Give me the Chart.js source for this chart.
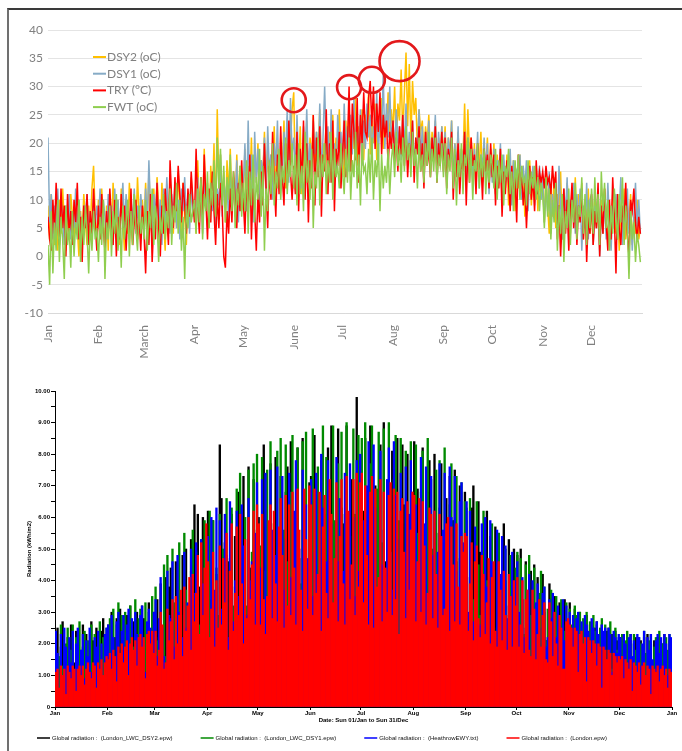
<!DOCTYPE html>
<html>
<head>
<meta charset="utf-8">
<script src="https://cdn.jsdelivr.net/npm/chart.js@4.4.1/dist/chart.umd.min.js"></script>
<style>
  html, body { margin: 0; padding: 0; background: #fff; }
  body { width: 682px; height: 751px; position: relative; overflow: hidden; }
  #frame { position: absolute; left: 7px; top: 8px; width: 675px; height: 743px;
           border-top: 2px solid #3a3a3a; border-left: 2px solid #707070; }
  .box { position: absolute; left: 10px; width: 672px; }
  #tempBox { top: 11px; height: 359px; }
  #radBox { top: 380px; height: 371px; }
</style>
</head>
<body>
<div id="frame"></div>
<div class="box" id="tempBox"><canvas id="tempChart"></canvas></div>
<div class="box" id="radBox"><canvas id="radChart"></canvas></div>
<script>
// ---- shared calendar ----
const monthStarts = [0, 31, 59, 90, 120, 151, 181, 212, 243, 273, 304, 334];
const tempMonthLabels = ['Jan', 'Feb', 'March', 'Apr', 'May', 'June', 'Jul', 'Aug', 'Sep', 'Oct', 'Nov', 'Dec'];
const radTickDays = [0, 31, 59, 90, 120, 151, 181, 212, 243, 273, 304, 334, 365];
const radMonthLabels = ['Jan', 'Feb', 'Mar', 'Apr', 'May', 'Jun', 'Jul', 'Aug', 'Sep', 'Oct', 'Nov', 'Dec', 'Jan'];
const radTickLabels = ['0', '1.00', '2.00', '3.00', '4.00', '5.00', '6.00', '7.00', '8.00', '9.00', '10.00'];

// ---- daily temperatures (oC) ----
const dsy2Temp = [
  9,3,11,5,2,8,1,10,4,12,6,1,9,3,11,7,2,10,5,0,8,4,11,6,2,9,5,12,16,7,3,
  10,4,12,6,2,9,1,11,5,13,7,3,10,2,12,6,1,9,4,13,8,2,11,5,14,7,3,10,
  6,13,4,15,8,2,12,5,14,9,3,13,7,1,11,6,14,8,4,12,5,15,9,3,13,7,2,11,6,14,8,
  10,4,17,8,14,6,19,9,13,5,16,10,20,7,26,12,18,8,15,6,17,11,19,9,14,7,18,10,16,8,
  10,19,8,16,12,21,9,18,13,20,10,17,14,22,11,19,12,18,15,23,10,20,13,19,16,24,12,21,14,20,26,
  29,12,20,15,23,11,19,16,24,13,21,17,25,14,22,18,26,15,20,17,24,13,22,18,25,16,21,19,26,17,
  20,14,24,18,27,15,22,19,28,16,23,20,26,17,25,21,29,18,24,20,27,17,23,21,28,19,25,22,29,20,26,
  22,30,19,27,24,33,21,29,36,23,34,20,31,25,28,19,26,22,24,18,23,20,25,17,22,19,24,16,21,18,23,
  17,23,15,21,18,24,14,20,16,22,13,19,17,27,15,26,18,21,14,20,12,19,16,22,13,18,15,21,12,19,
  14,20,11,18,13,19,10,17,12,18,9,16,11,17,8,15,12,18,10,16,7,14,11,17,9,15,12,16,8,14,10,
  13,6,15,9,4,12,7,14,5,11,8,15,3,10,6,13,9,4,12,7,14,5,11,8,13,3,10,6,12,4,
  9,2,11,5,8,1,10,4,12,6,3,9,2,11,7,4,10,1,8,5,12,3,9,6,11,2,7,4,10,3,5
];
const dsy1Temp = [
  21,6,11,3,9,5,12,4,10,7,2,9,6,11,3,8,5,12,4,10,6,2,9,7,11,4,8,3,10,5,9,
  6,12,4,10,7,3,11,5,9,2,12,6,10,4,8,13,5,11,7,3,10,6,12,4,9,5,11,7,
  4,12,6,17,8,3,11,7,13,5,10,2,12,6,14,8,4,11,7,13,5,10,3,12,8,14,6,11,4,13,7,
  10,5,14,7,12,4,15,9,11,6,13,8,16,5,12,9,18,7,14,10,13,6,15,8,12,9,17,6,14,10,
  12,20,8,24,10,18,6,22,13,19,9,17,14,21,11,23,15,18,10,20,16,24,12,19,14,22,17,26,13,28,18,
  21,14,25,16,19,12,23,17,26,15,20,13,24,18,22,16,27,14,21,30,18,23,15,26,17,20,14,25,19,22,
  16,27,19,23,15,25,18,28,17,22,20,26,16,24,19,27,21,25,18,23,20,29,17,26,22,32,19,27,21,30,20,
  24,18,26,20,23,17,25,19,27,16,22,18,24,15,21,19,26,17,23,14,22,18,24,16,21,19,25,15,22,17,23,
  16,22,14,21,17,24,13,20,15,23,12,19,16,22,14,21,17,20,13,19,15,22,12,18,16,21,14,20,11,18,
  13,19,11,17,14,20,10,18,12,16,13,19,9,17,11,15,14,18,10,16,12,17,8,15,13,16,9,14,11,16,10,
  14,6,12,8,15,4,11,7,13,5,16,9,3,12,7,14,2,10,8,13,4,11,6,12,1,9,5,13,3,10,
  11,2,9,5,12,0,8,4,10,3,13,6,1,9,5,11,3,8,14,2,10,6,12,4,9,1,7,13,5,10,4
];
const tryTemp = [
  7,3,1,10,4,13,6,2,12,5,9,0,11,4,8,2,10,6,13,3,7,-1,9,5,11,2,8,4,12,6,1,
  9,3,11,5,1,8,4,12,6,2,10,0,7,3,11,5,9,1,8,4,12,2,6,10,3,7,1,9,
  4,-3,8,2,11,-1,6,3,13,5,0,9,4,12,7,2,17,10,5,14,8,16,11,6,13,9,4,12,7,15,10,
  6,19,9,4,14,7,18,10,3,12,6,15,8,2,11,5,13,9,0,-2,8,4,12,6,15,10,5,13,8,17,
  10,4,14,7,18,3,12,8,1,11,6,15,9,20,12,5,16,10,22,13,7,18,11,23,14,9,20,12,24,15,10,
  16,11,22,8,19,13,24,10,20,6,17,12,25,9,21,14,23,7,18,15,26,11,20,13,24,8,19,16,22,12,
  18,24,14,19,30,15,27,22,17,28,13,25,20,29,22,21,28,31,23,30,19,27,22,29,18,25,21,24,16,22,19,
  24,17,21,15,23,18,25,16,22,14,20,17,24,13,21,18,23,15,20,12,22,16,19,14,21,17,23,13,20,16,22,
  15,21,12,19,16,22,10,18,14,20,11,17,15,22,9,19,13,21,16,18,11,20,14,17,10,19,15,18,12,20,
  14,18,9,16,12,19,7,15,11,17,13,8,16,10,14,6,18,11,15,9,13,5,12,16,10,14,8,17,11,15,13,
  15,12,16,13,14,11,16,12,15,3,9,0,7,12,4,10,1,8,13,5,11,2,9,6,12,3,10,-1,7,4,
  11,2,8,5,13,0,9,4,12,6,1,10,3,14,7,-3,11,5,2,9,6,13,4,0,10,8,12,6,3,7,4
];
const fwtTemp = [
  2,-5,8,-3,6,1,10,-1,7,3,-4,9,2,5,-2,8,0,6,3,10,-1,7,2,9,4,-3,6,1,8,3,5,
  -1,7,2,10,-4,6,3,9,0,8,4,11,1,7,-2,9,3,6,10,0,8,2,11,5,1,9,4,7,
  3,10,1,8,5,12,2,9,6,-1,7,4,11,3,8,5,12,2,9,6,13,4,10,1,7,-4,9,5,11,6,8,
  10,4,12,6,14,3,11,8,15,5,13,9,17,7,21,12,19,9,16,6,14,10,18,8,15,5,12,9,16,7,
  13,8,17,4,15,9,18,6,14,10,19,7,16,1,12,8,17,11,20,9,15,12,19,10,16,13,21,11,17,14,20,
  12,18,9,20,11,16,8,22,13,17,10,19,5,15,12,21,9,18,14,20,11,17,13,22,10,19,14,16,12,20,
  15,11,19,13,21,10,17,14,22,12,18,9,20,15,16,11,19,13,21,10,17,14,20,8,18,12,16,13,19,11,17,
  20,14,22,16,19,13,21,15,23,17,20,14,22,16,19,12,21,15,18,13,20,16,22,14,19,15,21,13,18,16,20,
  14,20,11,18,15,21,12,19,9,17,14,20,11,18,16,21,13,19,10,17,15,20,12,18,14,19,11,17,13,18,
  16,12,19,10,17,13,18,9,16,14,19,11,15,8,17,12,18,10,16,13,14,9,17,11,15,12,16,10,14,8,13,
  11,5,14,7,12,3,10,6,13,1,9,4,11,-1,8,5,12,2,10,6,13,3,9,7,14,4,11,2,10,5,
  12,4,14,6,11,2,15,8,13,5,10,1,9,4,12,7,3,11,6,14,2,9,5,-4,8,3,6,-1,4,2,-1
];

// highlighted peaks (day of year, oC)
const circleDays = [151, 185, 199, 216];
const circleTemps = [27.6, 29.9, 31.2, 34.5];

// ---- daily global radiation ----
const radDsy2 = [
  1.2,2.5,0.8,1.9,2.7,1.1,0.6,2.2,1.7,2.6,0.9,1.4,2.4,2.0,0.7,1.8,2.6,1.3,2.3,0.5,1.6,2.7,2.1,1.0,2.5,1.5,0.8,2.4,2.8,1.9,1.2,
  2.6,1.4,3.0,0.9,2.2,2.8,1.7,3.1,1.2,2.5,0.8,2.9,2.0,3.2,1.5,2.7,1.0,3.0,2.3,1.6,3.2,2.8,1.1,2.6,3.3,1.9,2.4,3.0,
  1.8,3.4,2.2,3.9,1.4,2.6,4.1,1.2,3.8,4.4,1.9,2.5,4.6,2.8,1.3,3.6,4.8,2.1,5.0,2.5,1.5,5.3,3.2,6.4,2.0,6.1,3.8,2.9,6.0,1.7,4.4,
  6.2,2.1,3.4,5.9,1.8,4.2,2.8,8.3,6.6,2.3,5.2,3.0,4.6,2.4,6.1,1.9,5.4,3.6,6.8,2.6,4.8,7.3,2.2,3.1,7.6,4.4,1.6,7.2,3.5,5.6,
  6.0,2.4,3.8,8.3,5.7,2.1,4.5,7.7,3.3,3.2,7.9,2.6,5.2,7.3,4.1,1.8,6.8,7.6,3.5,8.4,2.7,5.5,4.2,8.2,4.7,2.3,8.5,5.9,3.0,3.9,7.1,
  7.3,3.0,8.6,4.4,2.5,4.2,7.8,3.1,6.1,3.6,8.2,2.2,8.9,5.4,3.3,4.8,8.8,2.9,6.3,5.8,2.4,8.9,4.5,3.6,7.2,5.3,2.7,9.8,4.9,7.7,
  3.6,6.2,8.5,2.8,5.1,8.9,4.3,2.6,7.0,3.4,5.7,8.3,2.9,9.0,4.6,4.9,2.7,6.0,8.1,3.5,5.4,8.5,3.8,2.4,8.3,6.4,3.1,8.0,5.6,2.6,6.8,
  8.4,3.1,6.9,5.0,2.6,8.2,4.4,3.3,6.8,7.8,3.9,2.5,8.0,5.5,3.4,6.3,7.7,2.8,4.1,6.6,3.5,7.3,2.3,5.9,7.5,4.6,3.0,7.0,5.2,2.7,6.8,
  5.9,2.6,4.1,6.3,7.0,3.6,2.1,6.5,4.9,3.0,2.9,5.6,6.2,2.4,5.4,3.8,3.3,5.7,1.9,5.5,2.6,4.1,5.8,4.0,2.2,5.3,3.1,1.8,5.0,4.2,
  4.8,2.5,5.0,3.4,1.7,4.6,2.9,3.2,4.3,1.9,4.5,2.3,4.1,2.4,1.5,4.2,3.0,2.1,1.7,3.9,2.4,2.2,3.5,1.6,2.8,3.3,1.5,2.1,3.4,2.5,1.3,
  3.3,2.1,2.9,3.1,1.6,2.8,3.0,2.4,1.2,2.7,2.9,1.8,2.6,2.3,1.0,2.5,2.7,2.0,1.4,2.6,2.2,0.9,2.4,2.5,1.7,2.3,1.3,2.4,2.1,1.6,
  2.2,1.1,2.3,1.8,0.8,2.1,2.3,1.4,2.0,2.2,0.7,1.9,2.1,1.5,2.2,1.0,2.3,1.7,2.0,0.6,2.1,1.3,2.2,1.9,0.9,2.0,2.3,1.6,1.2,2.1,1.8
];
const radDsy1 = [
  2.3,0.9,1.6,2.6,1.3,0.6,2.0,2.5,1.1,1.8,2.6,0.8,2.2,1.5,2.7,1.0,1.9,2.4,0.7,2.1,1.4,2.6,1.2,2.3,0.9,2.0,2.7,1.5,2.2,1.7,2.5,
  1.3,2.8,2.0,3.1,1.1,2.6,3.3,1.7,2.9,0.9,3.0,2.4,1.5,3.2,2.7,1.9,3.4,1.2,2.8,3.1,2.2,1.6,3.3,2.5,3.0,1.4,3.5,2.6,
  3.8,2.1,2.2,3.0,1.5,4.5,1.6,4.8,2.3,2.1,5.0,3.3,1.8,2.7,5.2,2.9,1.4,5.5,3.7,2.0,2.1,4.3,5.6,1.5,4.9,3.8,2.6,5.3,1.6,5.9,3.9,
  3.5,6.2,2.6,5.9,3.5,4.4,2.9,6.1,2.8,5.0,3.4,6.6,2.0,4.7,6.3,3.2,3.8,6.9,2.6,7.4,4.2,2.1,6.0,3.2,7.5,2.7,4.9,7.7,2.8,8.0,
  3.2,5.1,7.9,2.2,4.3,7.5,3.6,8.4,2.4,5.8,3.7,8.1,3.0,8.5,2.9,5.6,8.3,4.6,2.0,6.8,8.6,3.2,4.4,8.2,2.3,3.9,8.4,4.3,8.7,2.7,6.1,
  2.9,8.8,5.5,3.2,7.6,4.7,2.5,8.9,3.4,7.9,3.8,5.6,2.1,8.9,5.9,3.3,7.7,4.5,8.7,2.6,6.1,9.0,3.3,5.4,2.4,8.8,6.1,3.0,8.6,5.0,
  8.5,3.3,9.0,5.8,2.2,7.7,8.9,4.6,3.4,6.9,8.7,2.5,5.2,8.8,3.3,4.0,9.0,4.9,2.3,7.2,8.6,3.7,5.9,8.5,2.5,3.6,8.1,4.6,2.4,8.4,5.8,
  2.4,8.3,5.5,3.9,6.8,8.1,2.4,4.6,8.5,3.2,7.2,5.0,3.9,7.5,2.6,7.8,5.1,3.2,8.2,4.7,2.4,6.4,7.7,3.8,5.9,7.3,2.2,4.7,7.1,3.4,6.5,
  6.3,2.8,6.6,3.7,3.4,2.1,6.5,4.5,2.9,2.8,6.2,3.3,4.0,3.9,2.6,5.8,4.3,2.4,2.5,5.5,3.9,2.2,3.6,5.0,2.6,2.9,4.8,2.1,3.8,4.4,
  4.9,2.4,4.7,2.2,2.3,4.5,1.9,4.8,2.9,2.1,4.4,1.8,2.0,3.6,4.3,1.6,3.8,2.1,3.1,1.6,3.7,1.9,2.7,3.5,1.2,1.9,3.4,2.6,2.4,3.3,1.8,
  3.1,2.6,1.4,3.2,2.9,2.2,3.0,1.1,2.8,2.5,3.0,1.9,2.7,1.3,2.9,2.4,2.6,0.9,2.5,2.8,2.0,2.6,1.5,2.4,2.7,1.2,2.3,2.5,1.8,2.2,
  1.9,2.3,0.9,2.1,2.4,1.5,2.0,1.2,2.3,1.8,0.7,2.2,2.0,1.4,2.4,1.7,0.8,2.1,2.3,1.3,1.9,2.2,1.0,2.4,1.6,2.0,0.6,2.2,1.8,2.3,1.4
];
const radEwy = [
  2.4,1.7,0.5,2.3,1.0,2.5,1.9,0.8,2.2,1.4,2.4,0.6,2.0,2.5,1.2,1.8,2.3,0.9,2.1,1.6,2.5,1.1,0.7,2.2,1.9,2.4,1.3,2.0,0.8,2.3,2.5,
  2.6,1.2,2.9,2.2,0.8,2.7,3.0,1.6,2.4,2.9,1.0,2.6,3.1,1.9,2.8,0.7,3.0,2.3,1.4,2.9,3.2,2.0,1.1,2.7,3.1,2.5,1.7,3.0,
  3.4,1.6,2.8,4.1,2.5,1.6,1.2,4.3,2.9,2.8,4.6,1.9,2.4,4.8,3.0,2.2,2.2,4.9,2.5,3.3,1.7,5.0,2.7,3.6,5.2,2.4,1.9,5.3,3.9,2.1,2.8,
  5.4,2.1,6.0,2.7,3.7,6.3,2.5,5.9,3.1,2.4,6.1,4.8,2.2,6.5,3.8,2.7,4.0,6.2,3.5,2.8,6.4,5.1,2.9,2.9,6.6,4.0,4.6,2.3,5.5,7.1,
  2.8,4.4,7.2,3.1,7.4,3.3,2.9,7.5,5.6,3.1,4.8,7.6,2.5,2.9,7.3,3.7,5.3,2.8,7.4,4.1,2.6,6.2,7.8,3.0,5.0,3.6,7.5,2.7,6.4,4.7,3.8,
  7.2,3.5,4.9,7.4,3.9,2.7,8.0,6.3,3.5,4.6,7.8,2.9,5.8,3.1,2.8,7.9,4.6,6.6,3.0,4.3,7.4,2.9,5.1,7.7,3.1,6.0,3.5,7.8,4.3,8.0,
  4.6,5.9,3.2,7.0,8.4,4.4,2.8,8.3,6.3,3.5,3.2,8.1,4.5,5.6,2.9,7.2,8.2,4.9,3.7,8.4,6.7,5.3,2.0,7.4,4.3,3.9,7.6,3.1,6.1,7.8,3.3,
  5.0,6.4,2.7,4.5,7.9,3.2,5.8,7.6,3.0,3.7,7.3,4.8,6.2,2.5,4.9,7.7,3.0,5.6,7.4,2.9,3.2,7.6,6.0,2.8,7.3,4.3,3.0,6.5,7.1,5.2,2.7,
  6.5,3.0,6.2,3.3,2.7,5.7,4.4,2.1,2.6,5.8,3.4,6.0,3.8,2.5,5.9,4.6,2.3,2.2,5.6,3.0,4.2,5.4,2.4,5.1,2.8,3.2,2.8,4.9,2.5,4.0,
  4.6,3.0,2.4,4.1,2.2,2.5,3.7,4.2,1.5,4.0,2.3,3.3,3.9,2.5,1.8,3.6,3.8,1.9,2.2,3.4,2.8,3.6,1.3,2.2,3.2,2.6,1.7,3.4,2.1,3.2,2.0,
  3.0,2.5,2.9,1.6,2.8,3.0,2.2,2.7,0.9,2.9,2.6,2.4,1.4,2.8,2.5,1.9,2.7,2.3,0.8,2.6,2.4,2.5,1.5,2.5,2.3,1.1,2.4,2.2,1.7,2.3,
  2.2,1.4,2.3,2.0,0.7,2.2,2.3,1.6,2.1,1.0,2.3,2.2,1.3,2.0,2.4,0.9,2.2,1.8,2.3,1.5,0.8,2.1,2.3,1.7,2.2,1.2,2.3,2.0,1.0,2.3,2.2
];
const radLondon = [
  1.1,1.2,0.6,1.3,1.0,1.2,0.4,1.3,1.1,0.9,1.3,1.2,0.5,1.2,1.3,1.0,1.3,0.7,1.2,1.4,1.1,0.9,1.4,1.3,0.6,1.4,1.2,1.5,1.0,1.4,1.6,
  1.5,1.7,1.2,1.8,1.6,0.8,1.9,1.7,2.0,1.4,1.9,2.1,1.0,2.0,2.2,1.8,2.1,1.3,2.2,2.3,1.9,2.2,0.9,2.3,2.4,2.0,2.4,1.7,
  2.4,1.3,1.8,3.0,2.6,1.2,1.4,3.1,2.1,2.7,3.4,1.5,3.5,2.0,2.9,3.7,1.6,3.8,2.4,3.2,4.1,1.8,4.2,2.7,3.6,4.8,2.3,5.2,2.9,4.4,5.8,
  4.6,2.2,3.1,4.9,1.9,4.0,2.5,5.1,2.6,4.7,3.3,5.5,1.8,4.3,5.8,2.4,3.6,5.7,2.9,6.1,3.9,2.0,5.3,2.8,6.0,3.4,4.5,6.2,2.6,6.4,
  5.8,2.6,6.1,3.4,2.3,3.5,5.9,6.4,2.8,6.2,3.9,2.7,5.7,6.6,4.8,2.5,6.7,3.2,6.4,2.9,6.8,4.4,2.6,6.9,5.6,3.7,2.4,6.9,5.3,3.1,7.0,
  6.4,2.9,6.9,3.6,4.2,6.8,2.4,5.7,6.7,3.6,2.8,7.2,6.1,3.3,4.7,7.1,2.7,5.4,7.2,3.9,2.6,7.3,6.2,3.4,4.5,7.2,2.9,7.4,3.8,7.1,
  7.4,3.3,7.0,4.8,2.6,6.8,7.3,2.5,6.9,3.8,4.1,7.2,2.7,6.8,4.4,3.0,6.7,7.1,2.9,6.9,3.4,6.8,2.3,6.2,6.6,4.9,2.8,6.5,3.7,5.6,6.8,
  6.7,2.7,4.6,6.6,3.0,6.5,5.1,2.6,3.6,6.3,6.1,2.8,6.2,4.2,2.5,6.1,5.4,2.9,3.1,5.8,6.0,2.4,5.7,4.5,2.7,5.8,3.8,2.6,5.4,4.9,5.5,
  5.4,2.4,3.9,5.2,2.1,4.6,5.1,2.8,2.2,4.8,4.2,2.3,3.3,4.7,2.0,4.1,4.6,2.4,1.9,4.6,3.7,2.1,4.3,2.9,1.8,4.2,3.5,1.9,4.0,3.2,
  4.1,1.9,2.6,4.0,1.7,3.4,3.7,1.8,1.6,3.7,3.1,1.5,2.3,3.4,1.9,2.9,3.3,1.5,1.4,3.3,2.7,1.6,3.0,2.0,1.3,2.9,2.5,1.2,1.2,2.7,2.8,
  2.6,2.5,1.9,2.5,2.4,1.1,2.3,2.4,2.0,2.2,0.8,2.2,2.1,1.7,2.1,2.0,1.3,2.0,1.9,0.6,1.9,1.8,1.5,1.8,1.7,1.0,1.7,1.6,1.4,1.6,
  1.5,1.6,0.9,1.5,1.4,1.2,1.5,0.5,1.4,1.3,1.1,1.4,0.7,1.3,1.4,1.0,1.3,1.2,0.4,1.3,1.2,1.1,1.3,0.8,1.2,1.3,1.0,1.2,0.6,1.2,1.1
];

const byDay = (arr, shift) => arr.map((v, i) => ({ x: i + shift, y: v }));

// legend drawn inside the plot, top left
const tempLegend = {
  id: 'tempLegend',
  afterDraw(chart) {
    const { ctx, chartArea } = chart;
    ctx.save();
    ctx.font = '12px Lato';
    ctx.textBaseline = 'middle';
    chart.data.datasets.forEach((ds, k) => {
      const x = chartArea.left + 45;
      const y = chartArea.top + 27 + k * 16.7;
      ctx.strokeStyle = ds.borderColor;
      ctx.lineWidth = 2;
      ctx.beginPath();
      ctx.moveTo(x, y);
      ctx.lineTo(x + 13, y);
      ctx.stroke();
      ctx.fillStyle = '#7f7f7f';
      ctx.fillText(ds.label, x + 14, y);
    });
    ctx.restore();
  }
};

// red rings round the hottest spells
const peakRings = {
  id: 'peakRings',
  afterDatasetsDraw(chart) {
    const { ctx, scales } = chart;
    const radii = [12, 12, 13, 20];
    ctx.save();
    ctx.strokeStyle = '#e3181b';
    ctx.lineWidth = 2.6;
    circleDays.forEach((d, i) => {
      ctx.beginPath();
      ctx.arc(scales.x.getPixelForValue(d), scales.y.getPixelForValue(circleTemps[i]), radii[i], 0, Math.PI * 2);
      ctx.stroke();
    });
    ctx.restore();
  }
};

const grey = '#808080';

new Chart(document.getElementById('tempChart'), {
  type: 'line',
  data: {
    datasets: [
      { label: 'DSY2 (oC)', data: byDay(dsy2Temp, 0), borderColor: '#ffc000', order: 3 },
      { label: 'DSY1 (oC)', data: byDay(dsy1Temp, 0), borderColor: '#86abc6', order: 2 },
      { label: 'TRY (°C)', data: byDay(tryTemp, 0), borderColor: '#ff0000', order: 1 },
      { label: 'FWT (oC)', data: byDay(fwtTemp, 0), borderColor: '#8fce4f', order: 0 }
    ]
  },
  options: {
    responsive: true,
    maintainAspectRatio: false,
    animation: false,
    events: [],
    elements: {
      point: { radius: 0 },
      line: { borderWidth: 1.5, tension: 0 }
    },
    layout: { padding: { top: 19, right: 40, left: 0, bottom: 0 } },
    scales: {
      x: {
        type: 'linear',
        min: 0,
        max: 365,
        afterBuildTicks: s => { s.ticks = monthStarts.map(v => ({ value: v })); },
        afterFit: s => { s.height = 57; },
        ticks: {
          callback: (v, i) => tempMonthLabels[i],
          minRotation: 90,
          maxRotation: 90,
          autoSkip: false,
          padding: 4,
          color: grey,
          font: { family: 'Lato', size: 12 }
        },
        grid: { display: false },
        border: { color: '#d9d9d9' }
      },
      y: {
        min: -10,
        max: 40,
        afterFit: s => { s.width = 38; },
        ticks: { stepSize: 5, padding: 5, color: grey, font: { family: 'Lato', size: 12 } },
        grid: { color: '#e4e4e4', drawTicks: false },
        border: { display: false }
      }
    },
    plugins: { legend: { display: false }, tooltip: { enabled: false } }
  },
  plugins: [peakRings, tempLegend]
});

// legend row under the radiation chart
const radLegend = {
  id: 'radLegend',
  afterDraw(chart) {
    const { ctx } = chart;
    ctx.save();
    ctx.font = '6px "Liberation Sans"';
    ctx.textBaseline = 'middle';
    let x = 27;
    const y = 358;
    chart.data.datasets.forEach(ds => {
      ctx.strokeStyle = ds.backgroundColor;
      ctx.lineWidth = 1.5;
      ctx.beginPath();
      ctx.moveTo(x, y);
      ctx.lineTo(x + 13, y);
      ctx.stroke();
      ctx.fillStyle = '#111';
      ctx.fillText(ds.label, x + 15, y);
      x += 15 + ctx.measureText(ds.label).width + 28;
    });
    ctx.restore();
  }
};

const small = { family: 'Liberation Sans', size: 6, weight: 'bold' };
const barStyle = { grouped: false, barPercentage: 1, categoryPercentage: 1, borderWidth: 0 };

new Chart(document.getElementById('radChart'), {
  type: 'bar',
  data: {
    datasets: [
      { label: 'Global radiation :  (London_LWC_DSY2.epw)', data: byDay(radDsy2, 0.5), backgroundColor: '#000000', order: 3, ...barStyle },
      { label: 'Global radiation :  (London_LWC_DSY1.epw)', data: byDay(radDsy1, 0.5), backgroundColor: '#008a00', order: 2, ...barStyle },
      { label: 'Global radiation :  (HeathrowEWY.txt)', data: byDay(radEwy, 0.5), backgroundColor: '#0000ff', order: 1, ...barStyle },
      { label: 'Global radiation :  (London.epw)', data: byDay(radLondon, 0.5), backgroundColor: '#ff0000', order: 0, ...barStyle }
    ]
  },
  options: {
    responsive: true,
    maintainAspectRatio: false,
    animation: false,
    events: [],
    layout: { padding: { top: 11, right: 10, left: 0, bottom: 24 } },
    scales: {
      x: {
        type: 'linear',
        min: 0,
        max: 365,
        offset: false,
        afterBuildTicks: s => { s.ticks = radTickDays.map(v => ({ value: v })); },
        afterFit: s => { s.height = 20; },
        ticks: {
          callback: (v, i) => radMonthLabels[i],
          autoSkip: false,
          maxRotation: 0,
          padding: 0,
          color: '#000',
          font: small
        },
        grid: { offset: false, drawOnChartArea: false, color: '#000', tickLength: 3 },
        border: { color: '#000' },
        title: { display: true, text: 'Date: Sun 01/Jan to Sun 31/Dec', color: '#000', font: small, padding: { top: 0, bottom: 3 } }
      },
      y: {
        min: 0,
        max: 10,
        afterFit: s => { s.width = 45; },
        ticks: {
          stepSize: 0.5,
          autoSkip: false,
          padding: 1,
          color: '#000',
          font: small,
          callback: v => (Number.isInteger(v) ? radTickLabels[v] : '')
        },
        grid: { drawOnChartArea: false, color: '#000', tickLength: 4 },
        border: { color: '#000' },
        title: { display: true, text: 'Radiation (kWh/m2)', color: '#000', font: small, padding: { top: 16, bottom: 0 } }
      }
    },
    plugins: { legend: { display: false }, tooltip: { enabled: false } }
  },
  plugins: [radLegend]
});
</script>
</body>
</html>
